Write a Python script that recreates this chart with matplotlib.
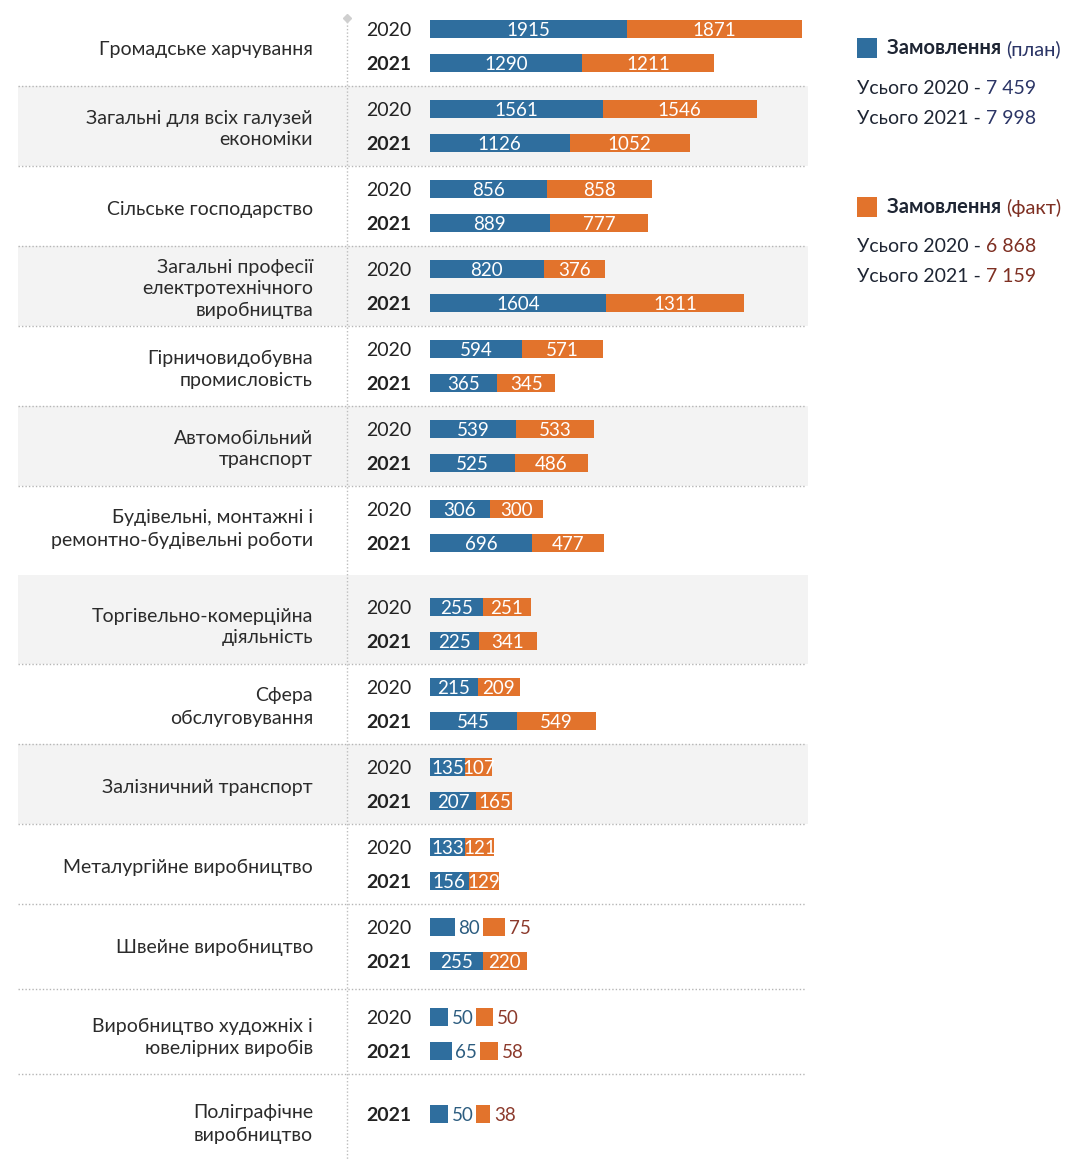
import matplotlib.pyplot as plt
from matplotlib.patches import Rectangle
import numpy as np

plt.rcParams['font.family'] = ['Lato', 'DejaVu Sans']

categories = [
    'Громадське харчування',
    'Загальні для всіх галузей\nекономіки',
    'Сільське господарство',
    'Загальні професії\nелектротехнічного\nвиробництва',
    'Гірничовидобувна\nпромисловість',
    'Автомобільний\nтранспорт',
    'Будівельні, монтажні і\nремонтно-будівельні роботи',
    'Торгівельно-комерційна\nдіяльність',
    'Сфера\nобслуговування',
    'Залізничний транспорт',
    'Металургійне виробництво',
    'Швейне виробництво',
    'Виробництво художніх і\nювелірних виробів',
    'Поліграфічне\nвиробництво',
]
plan_2020 = [1915, 1561, 856, 820, 594, 539, 306, 255, 215, 135, 133, 80, 50, None]
fact_2020 = [1871, 1546, 858, 376, 571, 533, 300, 251, 209, 107, 121, 75, 50, None]
plan_2021 = [1290, 1126, 889, 1604, 365, 525, 696, 225, 545, 207, 156, 255, 65, 50]
fact_2021 = [1211, 1052, 777, 1311, 345, 486, 477, 341, 549, 165, 129, 220, 58, 38]
years = ['2020', '2021']

BLUE = '#2f6e9e'
ORANGE = '#e2732c'
BLUE_TXT = '#2d5d80'
ORANGE_TXT = '#8c3a2c'
NAVY = '#2b3566'
BROWN = '#7e2f22'
DARK = '#222222'


def bar_len(v):
    # the infographic compresses long bars
    return 1.45 * v ** 0.65


def fmt_total(v):
    return f'{v:,}'.replace(',', ' ')


fig = plt.figure(figsize=(10.9, 11.59), dpi=100)
ax = fig.add_axes([0, 0, 1, 1])
ax.set_xlim(0, 1090)
ax.set_ylim(1159, 0)
ax.axis('off')

x0 = 430
row_off = 17
bar_h = 18
n = len(categories)
idx = np.arange(n)
centers = idx * 80 + 46 + np.where(idx >= 7, 18, 0) + np.where(idx >= 12, 10, 0)
bounds = np.concatenate([[centers[0] - 40], (centers[1:] + centers[:-1]) / 2, [centers[-1] + 45]])

# shaded bands and separators
for i in range(n):
    if i % 2 == 1 and i < 10:
        ax.add_patch(Rectangle((18, bounds[i]), 790, bounds[i + 1] - bounds[i],
                               color='#f3f3f3', zorder=0, lw=0))
for i in range(1, n):
    if i == 7:
        continue
    ax.hlines(bounds[i], 18, 806, colors='#b5b5b5', lw=1, linestyles=(0, (1, 1.5)), zorder=1)
ax.vlines(347, 18, 1159, colors='#bdbdbd', lw=1, linestyles=(0, (1, 1.5)), zorder=1)
ax.plot(347, 18, marker='D', ms=4, color='#cfcfcf', zorder=2)

for i in range(n):
    rows = []
    if plan_2020[i] is not None:
        rows.append((years[0], plan_2020[i], fact_2020[i], centers[i] - row_off, 'normal'))
        rows.append((years[1], plan_2021[i], fact_2021[i], centers[i] + row_off, 'bold'))
        label_y = centers[i] + 3
    else:
        rows.append((years[1], plan_2021[i], fact_2021[i], centers[i], 'bold'))
        label_y = centers[i] + 10

    ax.text(313, label_y, categories[i], ha='right', va='center', fontsize=14,
            linespacing=1.35, color='#2b2b2b')

    for year, p, f, y, w in rows:
        ax.text(389, y, year, ha='center', va='center_baseline', fontsize=14, fontweight=w,
                color=DARK)
        lp, lf = bar_len(p), 0.9 * bar_len(f)
        if p < 100:
            ax.barh(y, lp, left=x0, height=bar_h, color=BLUE, zorder=3)
            ax.text(x0 + lp + 3, y, str(p), ha='left', va='center_baseline', fontsize=13.5,
                    color=BLUE_TXT)
            xo = x0 + lp + 28
            ax.barh(y, lf, left=xo, height=bar_h, color=ORANGE, zorder=3)
            ax.text(xo + lf + 4, y, str(f), ha='left', va='center_baseline', fontsize=13.5,
                    color=ORANGE_TXT)
        else:
            ax.barh(y, lp, left=x0, height=bar_h, color=BLUE, zorder=3)
            ax.barh(y, lf, left=x0 + lp, height=bar_h, color=ORANGE, zorder=3)
            ax.text(x0 + lp / 2, y, str(p), ha='center', va='center_baseline', fontsize=13.5,
                    color='white', zorder=4)
            ax.text(x0 + lp + lf / 2, y, str(f), ha='center', va='center_baseline',
                    fontsize=13.5, color='white', zorder=4)

# legend blocks
totals_plan = [sum(v for v in plan_2020 if v), sum(plan_2021)]
totals_fact = [sum(v for v in fact_2020 if v), sum(fact_2021)]
legend = [
    (BLUE, '(план)', NAVY, totals_plan, NAVY, 48),
    (ORANGE, '(факт)', BROWN, totals_fact, BROWN, 207),
]
for sq_color, tag, tag_color, totals, num_color, y in legend:
    ax.add_patch(Rectangle((857, y - 10), 20, 20, color=sq_color, lw=0))
    t = ax.text(887, y, 'Замовлення ', ha='left', va='center', fontsize=14.5,
                fontweight='bold', color='#1e2533')
    ax.annotate(tag, xycoords=t, xy=(1, 0), va='bottom', fontsize=14.5, color=tag_color)
    for k, total in enumerate(totals):
        t2 = ax.text(857, y + 40 + 30 * k, f'Усього {years[k]} - ', ha='left', va='center',
                     fontsize=14, color='#1e2533')
        ax.annotate(fmt_total(total), xycoords=t2, xy=(1, 0), va='bottom', fontsize=14,
                    color=num_color)

plt.savefig('out.png', dpi=100)
